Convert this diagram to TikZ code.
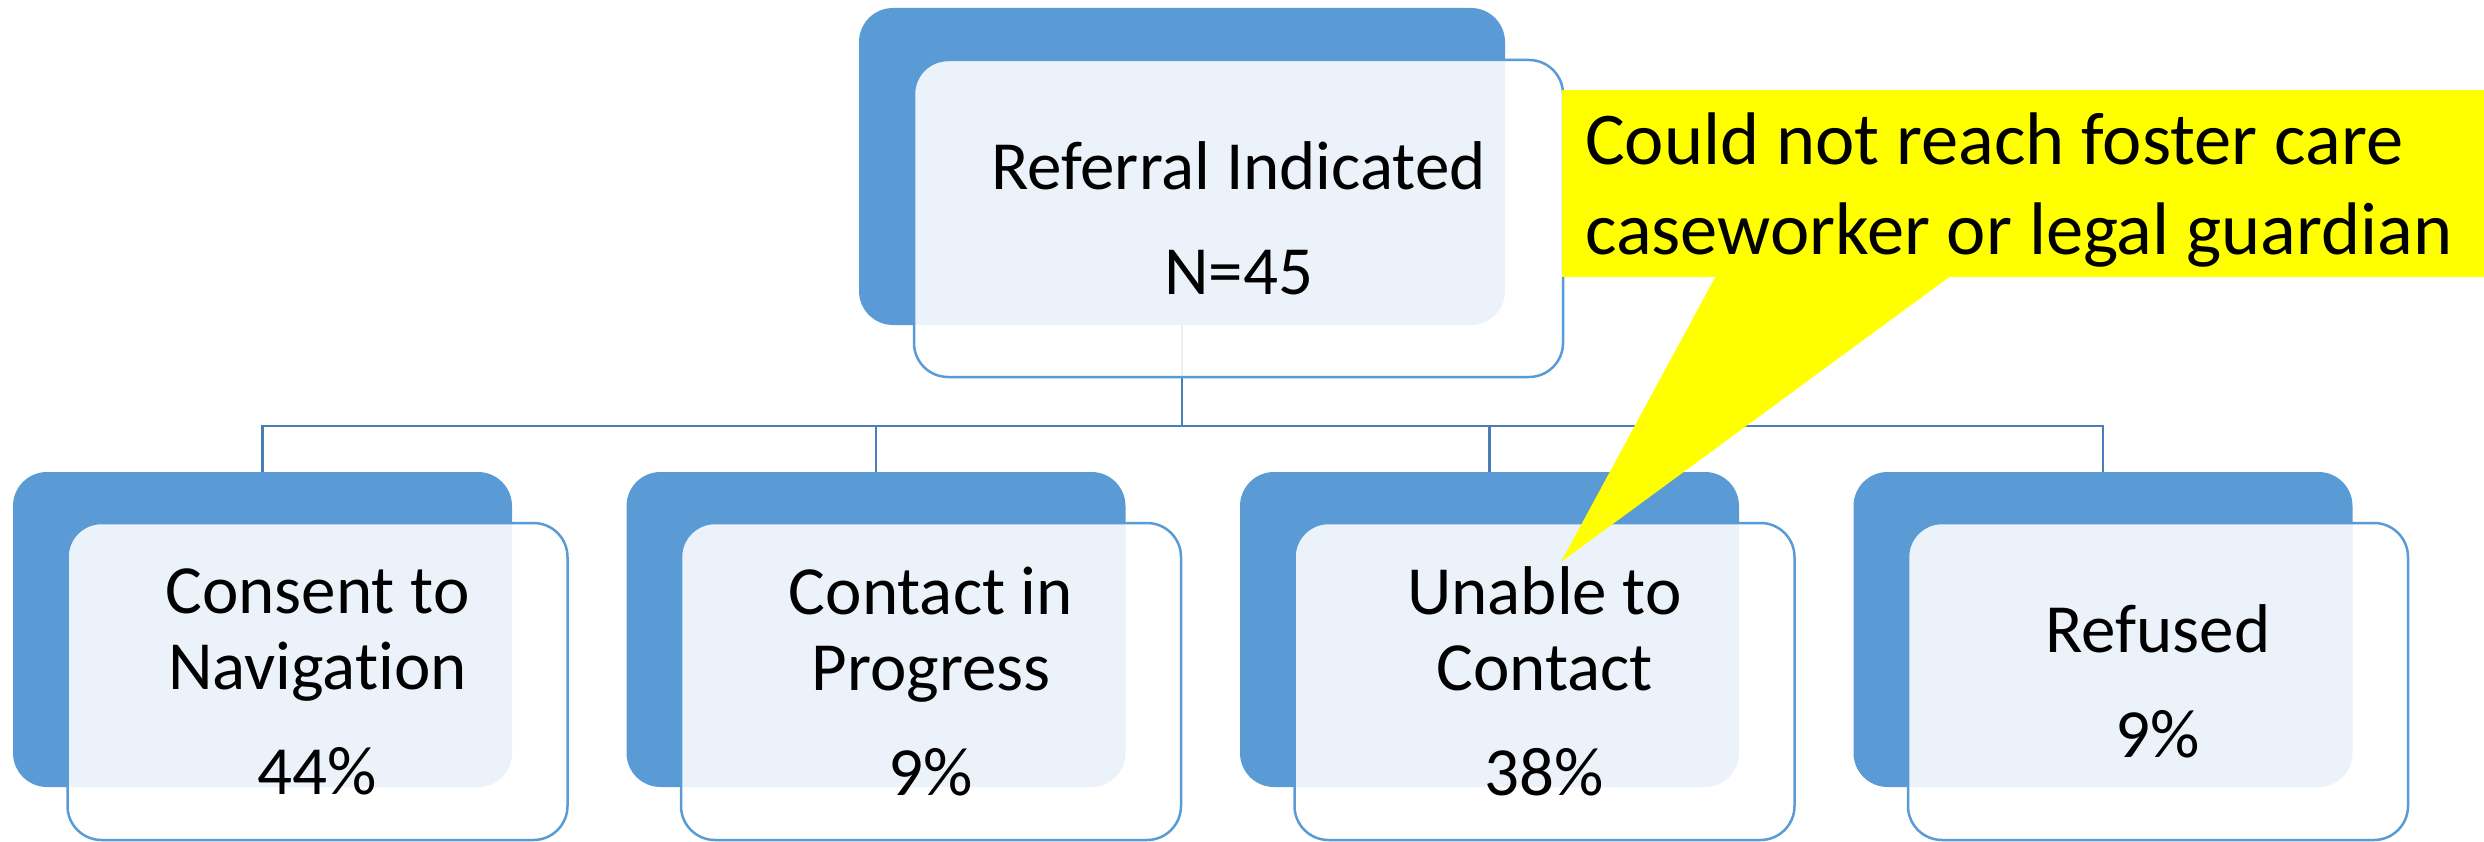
\documentclass[tikz,border=0pt]{standalone}
\usepackage{fontspec}
\setmainfont{Carlito}[RawFeature=-liga]
\definecolor{accent}{HTML}{5B9BD5}
\definecolor{connc}{HTML}{4A7EB8}
\definecolor{callY}{HTML}{FFFF00}
\begin{document}
\begin{tikzpicture}[x=1pt,y=-1pt,
  darkbox/.style={fill=accent, rounded corners=34pt, inner sep=0pt, minimum width=499pt, minimum height=315pt},
  lightbox/.style={fill=white, fill opacity=0.88, draw=accent, line width=2.5pt, rounded corners=34pt, inner sep=0pt, minimum width=500pt, minimum height=317pt},
  boxtext/.style={font=\fontsize{69}{76}\selectfont, align=center, inner sep=0pt, text=black},
  calltext/.style={font=\fontsize{74.5}{89.6}\selectfont, inner sep=0pt, text=black},
  conn/.style={draw=connc, line width=2.5pt},
  callbox/.style={fill=callY, inner sep=0pt, minimum width=922pt, minimum height=187pt}
]
\useasboundingbox (0,0) rectangle (2484,842);

% dark back boxes
\node[darkbox, minimum width=646pt, minimum height=317pt] (topd) at (1182,166.5) {};
\node[darkbox] (d1) at (262.5,629.5) {};
\node[darkbox] (d2) at (876,629.5) {};
\node[darkbox] (d3) at (1489.5,629.5) {};
\node[darkbox] (d4) at (2103,629.5) {};

% connectors
\coordinate (hub) at (1182,426);
\draw[conn] (topd.south) -- (hub);
\draw[conn] (hub) -| (d1.north);
\draw[conn] (hub) -| (d2.north);
\draw[conn] (hub) -| (d3.north);
\draw[conn] (hub) -| (d4.north);

% light front boxes
\node[lightbox, minimum width=649pt] (topl) at (1238.5,218.5) {};
\node[lightbox] (l1) at (317.5,681.5) {};
\node[lightbox] (l2) at (931,681.5) {};
\node[lightbox] (l3) at (1544.5,681.5) {};
\node[lightbox] (l4) at (2158,681.5) {};

% texts
\node[boxtext] (toptext) at (topl.center) {Referral Indicated\\[29pt]N=45};
\node[boxtext] (t1) at (l1.center) {Consent to\\Navigat\kern0pt ion\\[29pt]44\%};
\node[boxtext] (t2) at (l2.center) {Contact in\\Progress\\[29pt]9\%};
\node[boxtext] (t3) at (l3.center) {Unable to\\Contact\\[29pt]38\%};
\node[boxtext] (t4) at (l4.center) {Refused\\[29pt]9\%};

% callout
\node[callbox] (callout) at (2023,183.5) {};
\coordinate (pa) at (1718,272);
\coordinate (pb) at (1956,272);
\coordinate (tip) at (1561,562);
\fill[callY] (pa) -- (pb) -- (tip) -- cycle;
\node[calltext, anchor=base west] (c1) at (1585,165) {Could not reach foster care};
\node[calltext, anchor=base west] (c2) at (1585,255) {caseworker or legal guardian};
\end{tikzpicture}
\end{document}
